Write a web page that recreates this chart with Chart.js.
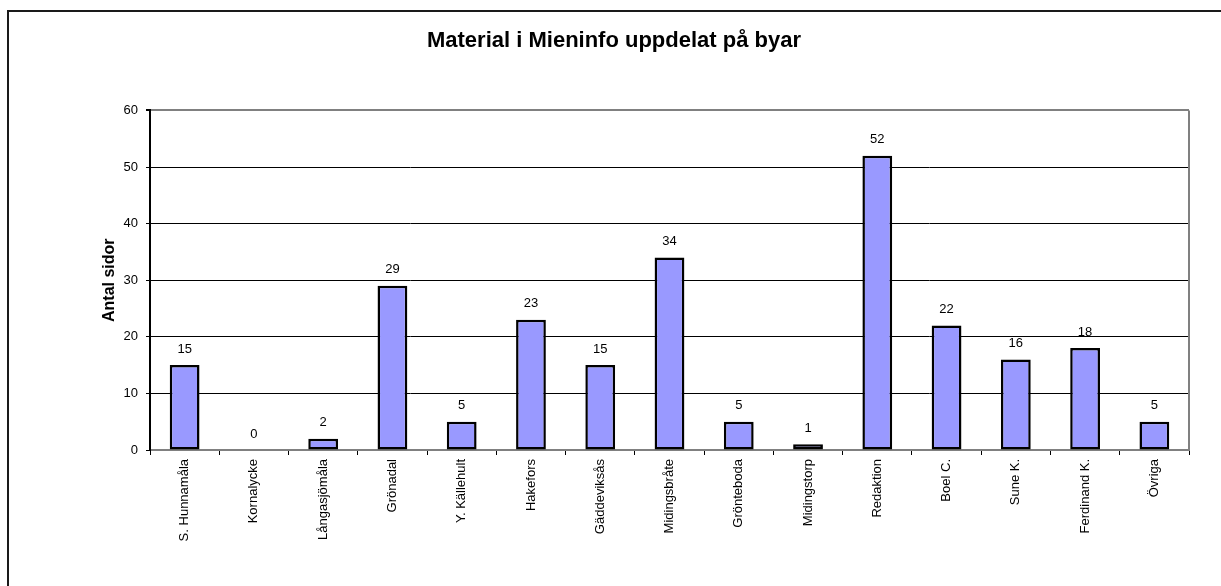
<!DOCTYPE html>
<html lang="sv">
<head>
<meta charset="utf-8">
<title>Material i Mieninfo uppdelat på byar</title>
<script src="https://cdn.jsdelivr.net/npm/chart.js@4.4.1/dist/chart.umd.min.js"></script>
<style>
    html, body {
        margin: 0;
        padding: 0;
        background: #FFFFFF;
        overflow: hidden;
    }

    .chart-frame {
        position: absolute;
        left: 7px;
        top: 10px;
        width: 1300px;
        height: 700px;
        border: 2px solid #1A1A1A;
    }

    .chart-wrap {
        position: absolute;
        left: 0;
        top: 0;
        width: 1221px;
        height: 586px;
    }
</style>
</head>
<body>
<div class="chart-frame"></div>
<div class="chart-wrap">
    <canvas id="villageChart"></canvas>
</div>

<script>
const chartTitle = "Material i Mieninfo uppdelat på byar";
const yAxisTitle = "Antal sidor";

const villages = [
    "S. Hunnamåla",
    "Kornalycke",
    "Långasjömåla",
    "Grönadal",
    "Y. Källehult",
    "Hakefors",
    "Gäddeviksås",
    "Midingsbråte",
    "Grönteboda",
    "Midingstorp",
    "Redaktion",
    "Boel C.",
    "Sune K.",
    "Ferdinand K.",
    "Övriga"
];

const pageCounts = [15, 0, 2, 29, 5, 23, 15, 34, 5, 1, 52, 22, 16, 18, 5];

const yMin = 0;
const yMax = 60;
const yStep = 10;


document.addEventListener("DOMContentLoaded", function () {
    initializeVillageChart();
});


// value labels above each bar, like the spreadsheet chart
const barValueLabels = {
    id: "barValueLabels",

    afterDatasetsDraw: function (chart) {
        const ctx = chart.ctx;
        const meta = chart.getDatasetMeta(0);

        ctx.save();
        ctx.font = "13px 'Liberation Sans', Arial, sans-serif";
        ctx.fillStyle = "#000000";
        ctx.textAlign = "center";
        ctx.textBaseline = "middle";

        meta.data.forEach(function (bar, index) {
            ctx.fillText(String(pageCounts[index]), bar.x, bar.y - 16);
        });

        ctx.restore();
    }
};


// grey frame on the right side of the plot area
const plotFrame = {
    id: "plotFrame",

    beforeDatasetsDraw: function (chart) {
        const area = chart.chartArea;
        const ctx = chart.ctx;

        ctx.save();
        ctx.strokeStyle = "#808080";
        ctx.lineWidth = 2;
        ctx.beginPath();
        ctx.moveTo(area.right, area.top);
        ctx.lineTo(area.right, area.bottom);
        ctx.stroke();
        ctx.restore();
    }
};


function initializeVillageChart() {
    const canvas = document.getElementById("villageChart");

    if (!canvas || typeof Chart === "undefined") {
        return;
    }

    const fontFamily = "'Liberation Sans', Arial, sans-serif";

    new Chart(canvas, {
        type: "bar",

        data: {
            labels: villages,

            datasets: [
                {
                    data: pageCounts,
                    backgroundColor: "#9999FF",
                    borderColor: "#000000",
                    borderWidth: 2.5,
                    borderSkipped: false,
                    barPercentage: 0.43,
                    categoryPercentage: 1
                }
            ]
        },

        options: {
            responsive: true,
            maintainAspectRatio: false,
            devicePixelRatio: 1,
            animation: false,

            layout: {
                padding: {
                    left: 39,
                    right: 32,
                    top: 0,
                    bottom: 0
                }
            },

            plugins: {
                legend: {
                    display: false
                },

                tooltip: {
                    enabled: false
                },

                title: {
                    display: true,
                    text: chartTitle,
                    color: "#000000",
                    font: {
                        family: fontFamily,
                        size: 22,
                        weight: "bold"
                    },
                    padding: {
                        top: 28,
                        bottom: 56
                    }
                }
            },

            scales: {
                x: {
                    afterFit: function (scale) {
                        scale.height = 136;
                    },

                    grid: {
                        drawOnChartArea: false,
                        drawTicks: true,
                        tickLength: 5,
                        color: "#000000",
                        offset: true
                    },

                    border: {
                        display: true,
                        color: "#808080",
                        width: 2
                    },

                    ticks: {
                        autoSkip: false,
                        minRotation: 90,
                        maxRotation: 90,
                        padding: 4,
                        color: "#000000",
                        font: {
                            family: fontFamily,
                            size: 13
                        }
                    }
                },

                y: {
                    min: yMin,
                    max: yMax,

                    afterFit: function (scale) {
                        scale.width = 111;
                    },

                    grid: {
                        drawTicks: true,
                        tickLength: 4,
                        tickColor: "#000000",

                        color: function (context) {
                            return context.tick && context.tick.value === yMax
                                ? "#808080"
                                : "#000000";
                        },

                        lineWidth: function (context) {
                            return context.tick && context.tick.value === yMax
                                ? 2
                                : 1;
                        }
                    },

                    border: {
                        display: true,
                        color: "#000000",
                        width: 2
                    },

                    ticks: {
                        stepSize: yStep,
                        padding: 8,
                        color: "#000000",
                        font: {
                            family: fontFamily,
                            size: 13
                        }
                    },

                    title: {
                        display: true,
                        text: yAxisTitle,
                        color: "#000000",
                        font: {
                            family: fontFamily,
                            size: 16,
                            weight: "bold"
                        },
                        padding: {
                            top: 61,
                            bottom: 0
                        }
                    }
                }
            }
        },

        plugins: [plotFrame, barValueLabels]
    });
}
</script>
</body>
</html>
